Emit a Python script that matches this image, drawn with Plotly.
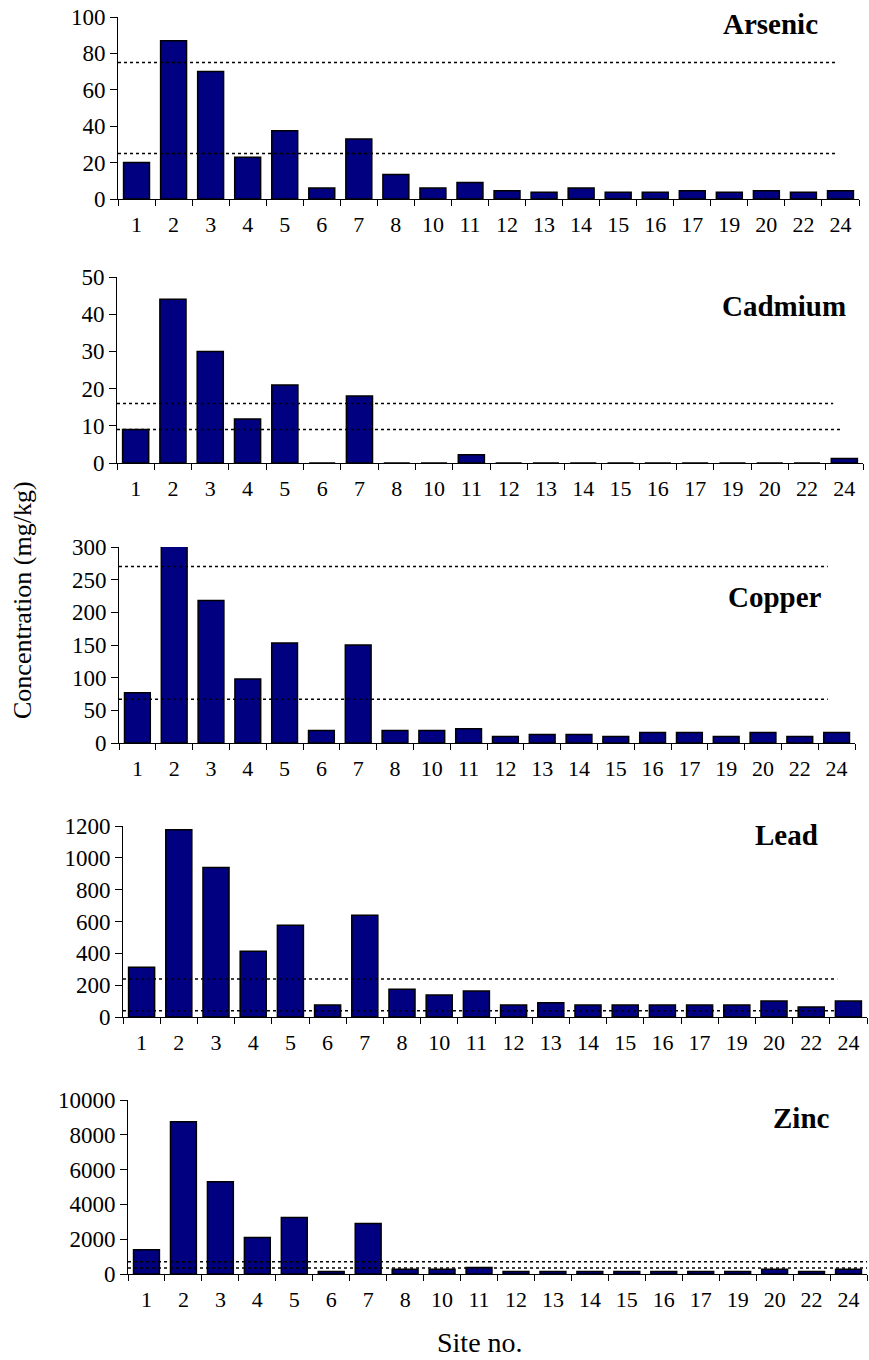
import plotly.graph_objects as go

sites = ["1", "2", "3", "4", "5", "6", "7", "8", "10", "11", "12", "13", "14",
         "15", "16", "17", "19", "20", "22", "24"]

arsenic = [20, 87, 70, 23, 37.5, 6, 33, 13.5, 6, 9, 4.6, 3.7, 6, 3.7, 3.7, 4.6, 3.7, 4.6, 3.7, 4.6]
cadmium = [9, 44, 30, 11.8, 21, 0, 18, 0, 0, 2.2, 0, 0, 0, 0, 0, 0, 0, 0, 0, 1.2]
copper = [77, 303, 218, 98, 153, 19, 150, 19, 19, 22, 10, 13, 13, 10, 16, 16, 10, 16, 10, 16]
lead = [313, 1177, 939, 413, 576, 75, 639, 175, 138, 163, 75, 90, 75, 75, 75, 75, 75, 100, 63, 100]
zinc = [1400, 8750, 5300, 2100, 3250, 150, 2900, 270, 270, 380, 150, 150, 150, 150, 150, 150, 150, 270, 150, 270]

metal_names = ["Arsenic", "Cadmium", "Copper", "Lead", "Zinc"]
guide_arsenic = [75, 25]
guide_cadmium = [16, 9]
guide_copper = [270, 67]
guide_lead = [238, 40]
guide_zinc = [700, 350]

y_max = [100, 50, 300, 1200, 10000]
y_step = [20, 10, 50, 200, 2000]

series = [arsenic, cadmium, copper, lead, zinc]
guides = [guide_arsenic, guide_cadmium, guide_copper, guide_lead, guide_zinc]

# ---- layout geometry (pixels) ----
W, H = 869, 1360
x_px = [(118, 859), (117, 863), (119, 855), (123, 867), (128, 867)]
y_px = [(17, 199), (277, 463), (547, 743), (826, 1017), (1100, 1274)]
guide_end = [[0.969, 0.969], [0.960, 0.973], [0.963, 0.963], [0.960, 0.960], [1.0, 1.0]]
title_pos = [(770, 24), (784, 306), (775, 597), (786, 835), (801, 1118)]

FONT = "Liberation Serif"
NAVY = "#000080"

fig = go.Figure()
shapes = []
annotations = []

for i in range(5):
    n = i + 1
    xa = "x" if n == 1 else f"x{n}"
    ya = "y" if n == 1 else f"y{n}"
    fig.add_trace(go.Bar(
        x=sites, y=series[i], xaxis=xa, yaxis=ya,
        marker=dict(color=NAVY, line=dict(color="black", width=1.5)),
        cliponaxis=False, showlegend=False, hoverinfo="skip",
    ))
    xl, xr = x_px[i]
    yt, yb = y_px[i]
    fig.update_layout(**{
        ("xaxis" if n == 1 else f"xaxis{n}"): dict(
            domain=[xl / W, xr / W], anchor=ya, type="category",
            categoryorder="array", categoryarray=sites,
            showline=True, linecolor="black", linewidth=1,
            ticks="outside", tickson="boundaries", ticklen=6, tickcolor="black",
            showgrid=False, zeroline=False, fixedrange=True, automargin=False,
            tickfont=dict(family=FONT, size=22, color="black"),
            ticklabelstandoff=6,
        ),
        ("yaxis" if n == 1 else f"yaxis{n}"): dict(
            domain=[1 - yb / H, 1 - yt / H], anchor=xa,
            range=[0, y_max[i]], dtick=y_step[i], tick0=0, tickformat="d",
            showline=True, linecolor="black", linewidth=1,
            ticks="outside", ticklen=7, tickcolor="black",
            showgrid=False, zeroline=False, fixedrange=True, automargin=False,
            tickfont=dict(family=FONT, size=23, color="black"),
        ),
    })
    for g, frac in zip(guides[i], guide_end[i]):
        shapes.append(dict(
            type="line", xref=f"{xa} domain", yref=ya,
            x0=0, x1=frac, y0=g, y1=g,
            line=dict(color="black", width=1.5, dash="dot"),
            layer="above",
        ))
    tx, ty = title_pos[i]
    annotations.append(dict(
        text=f"<b>{metal_names[i]}</b>", x=tx / W, y=1 - ty / H,
        xref="paper", yref="paper", showarrow=False,
        xanchor="center", yanchor="middle",
        font=dict(family=FONT, size=29, color="black"),
    ))

annotations.append(dict(
    text="Concentration (mg/kg)", x=22 / W, y=1 - 600 / H,
    xref="paper", yref="paper", showarrow=False, textangle=-90,
    xanchor="center", yanchor="middle",
    font=dict(family=FONT, size=26, color="black"),
))
annotations.append(dict(
    text="Site no.", x=480 / W, y=1 - 1342 / H,
    xref="paper", yref="paper", showarrow=False,
    xanchor="center", yanchor="middle",
    font=dict(family=FONT, size=28, color="black"),
))

fig.update_layout(
    width=W, height=H,
    margin=dict(l=0, r=0, t=0, b=0, pad=0),
    paper_bgcolor="white", plot_bgcolor="white",
    bargap=0.3,
    shapes=shapes, annotations=annotations,
    font=dict(family=FONT, color="black"),
)

fig.write_html(
    "out.html",
    config={"displayModeBar": False, "staticPlot": True},
    post_script="document.body.style.margin='0';document.body.style.overflow='hidden';",
)
